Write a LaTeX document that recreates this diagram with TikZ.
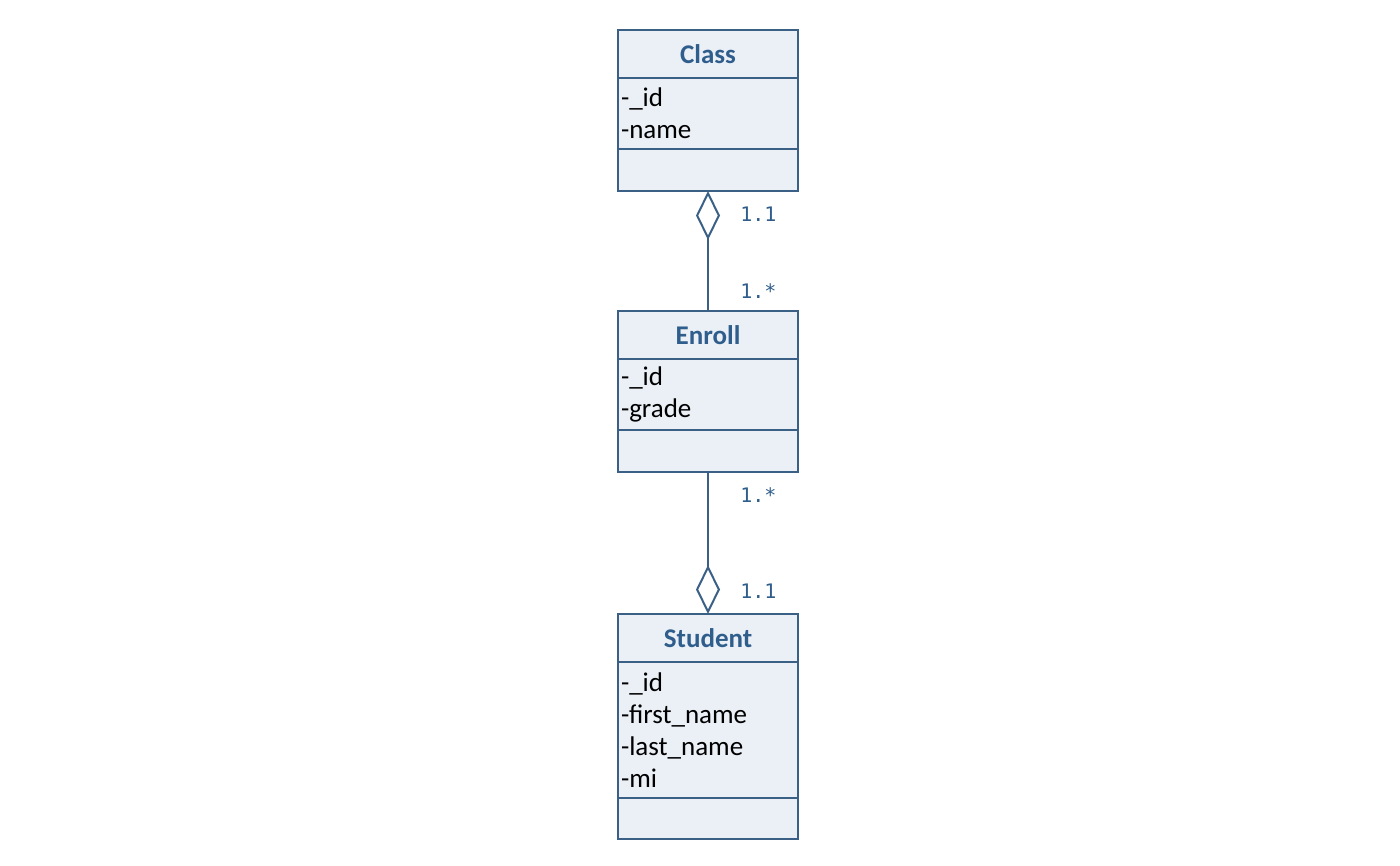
\documentclass[tikz,border=0pt]{standalone}
\usepackage{fontspec}
\setmainfont{Carlito}
\newfontfamily\multfont{DejaVu Sans Mono}
\usetikzlibrary{positioning,arrows.meta}
\definecolor{umlline}{HTML}{3A6085}
\definecolor{umltitle}{HTML}{2F5E8C}
\definecolor{umlfill}{HTML}{EBF0F7}
\tikzset{
  head/.style={draw=umlline, fill=umlfill, line width=2pt, outer sep=0pt, inner sep=0pt,
    minimum width=180pt, minimum height=48pt, text=umltitle,
    font=\fontsize{27}{32}\selectfont\bfseries},
  attrs/.style={draw=umlline, fill=umlfill, line width=2pt, outer sep=0pt,
    text width=174pt, inner xsep=3pt, inner ysep=0pt, align=left,
    font=\fontsize{27}{32}\selectfont},
  ops/.style={draw=umlline, fill=umlfill, line width=2pt, outer sep=0pt, inner sep=0pt,
    minimum width=180pt, minimum height=42pt},
  agg/.style={draw=umlline, line width=2pt, -{Diamond[open, length=49pt, width=24pt]}},
  mult/.style={text=umltitle, font=\multfont\fontsize{20}{22}\selectfont,
    anchor=west, xshift=28pt},
}
\begin{document}
\begin{tikzpicture}[x=1pt, y=-1pt]
\useasboundingbox (0,0) rectangle (1400,865);

% classes
\node[head] (class) at (708,54) {Class};
\node[attrs, minimum height=71pt, below=0pt of class] (classattr) {-\_id\\-name};
\node[ops, below=0pt of classattr] (classops) {};

\node[head] (enroll) at (708,335) {Enroll};
\node[attrs, minimum height=71pt, below=0pt of enroll] (enrollattr) {-\_id\\-grade};
\node[ops, below=0pt of enrollattr] (enrollops) {};

\node[head] (student) at (708,638) {Student};
\node[attrs, minimum height=136pt, below=0pt of student] (studentattr) {-\_id\\-first\_name\\-last\_name\\-mi};
\node[ops, minimum height=41pt, below=0pt of studentattr] (studentops) {};

% aggregations
\draw[agg] (enroll) -- (classops) node[mult, pos=0.17] {1.*} node[mult, pos=0.81] {1.1};
\draw[agg] (enrollops) -- (student) node[mult, pos=0.16] {1.*} node[mult, pos=0.84] {1.1};
\end{tikzpicture}
\end{document}
